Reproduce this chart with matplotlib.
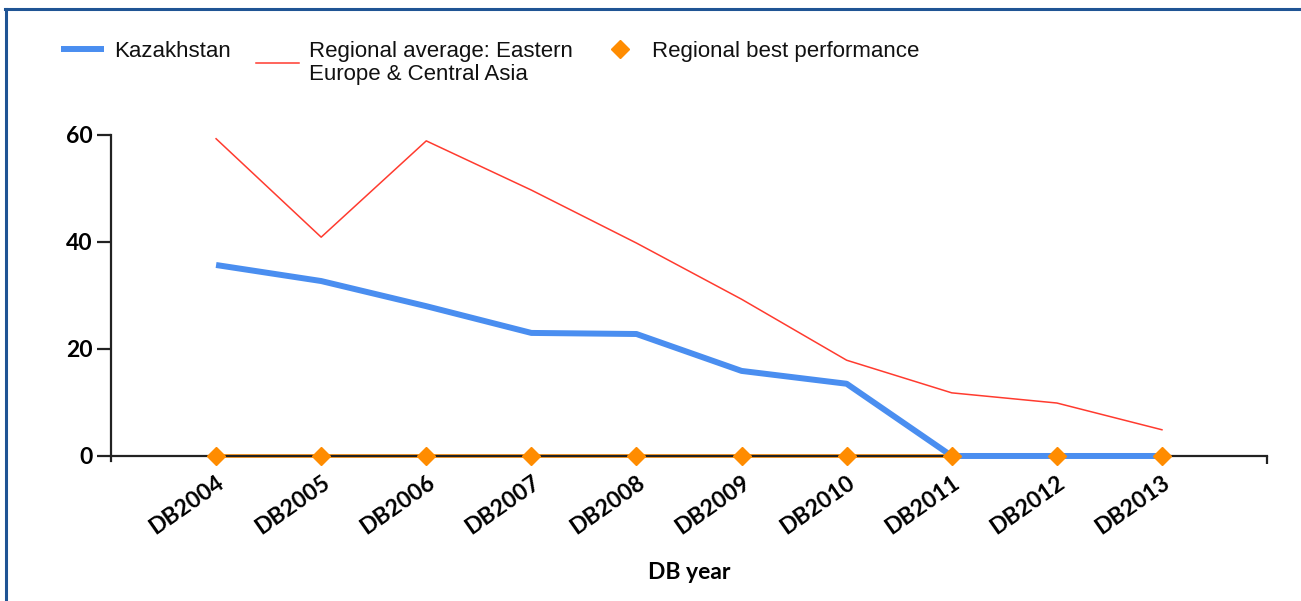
import numpy as np
import matplotlib
matplotlib.use("Agg")
import matplotlib.pyplot as plt
from matplotlib.lines import Line2D

# -----------------------
# Data
# -----------------------
years = ["DB2004", "DB2005", "DB2006", "DB2007", "DB2008",
         "DB2009", "DB2010", "DB2011", "DB2012", "DB2013"]
kazakhstan = [35.7, 32.7, 28.0, 23.0, 22.8, 15.9, 13.5, 0, 0, 0]
regional_avg = [59.3, 40.9, 58.9, 49.7, 39.8, 29.3, 17.9, 11.8, 9.9, 4.9]
regional_best = [0, 0, 0, 0, 0, 0, 0, 0, 0, 0]

yticks = [0, 20, 40, 60]

BLUE = "#4a8ef0"
RED = "#ff3b2f"
ORANGE = "#ff8c00"
FRAME = "#1f5494"

tick_font = dict(family="Lato", weight="bold", size=16.5)

fig = plt.figure(figsize=(13.01, 6.01), dpi=100)
ax = fig.add_axes([0.0853, 0.2324, 0.8886, 0.5430])

x = np.arange(len(years))

# orange connector sits under the axis line, diamonds on top
ax.plot(x, regional_best, color=ORANGE, lw=2.6, zorder=2, clip_on=False)
ax.plot(x, regional_best, ls="none", marker="D", ms=9, color=ORANGE,
        zorder=5, clip_on=False, label="Regional best performance")
ax.plot(x, regional_avg, color=RED, lw=1.1, zorder=3,
        label="Regional average: Eastern\nEurope & Central Asia")
ax.plot(x, kazakhstan, color=BLUE, lw=4.3, zorder=4, solid_capstyle="butt",
        clip_on=False, label="Kazakhstan")

ax.set_xlim(-1, 10)
ax.set_ylim(-1, 60)

for side in ["top", "right"]:
    ax.spines[side].set_visible(False)
ax.spines["bottom"].set_position(("data", 0))
ax.spines["bottom"].set_zorder(3.5)
for side in ["left", "bottom"]:
    ax.spines[side].set_linewidth(1.6)
    ax.spines[side].set_color("#222222")

ax.set_yticks(yticks)
ax.set_yticklabels([str(v) for v in yticks], fontdict=tick_font)
ax.tick_params(axis="y", direction="out", length=10, width=1.6,
               color="#222222", pad=3)

ax.set_xticks(x)
ax.set_xticklabels(years, fontdict=tick_font, rotation=35,
                   ha="right", rotation_mode="anchor")
ax.tick_params(axis="x", direction="inout", length=9, width=1.6,
               color="#222222", pad=7)
# little end tick at the right end of the category axis
ax.set_xticks([10], minor=True)
ax.tick_params(axis="x", which="minor", direction="out", length=6, width=1.6,
               color="#222222")

ax.set_xlabel("DB year", fontdict=tick_font, labelpad=17)

# legend across the top, entries aligned on their first line
handles, labels = ax.get_legend_handles_labels()
order = [2, 1, 0]
leg = fig.legend([handles[i] for i in order], [labels[i] for i in order],
                 loc="upper left", bbox_to_anchor=(0.047, 0.932), ncol=3,
                 frameon=False, prop=dict(family="Liberation Sans", size=16),
                 handlelength=1.95, handletextpad=0.45, columnspacing=1.12,
                 borderpad=0, borderaxespad=0)
for t in leg.get_texts():
    t.set_linespacing(1.12)
    t.set_color("#111111")
leg._legend_handle_box.align = "top"

# frame lines along the top and left edge of the picture
fig.add_artist(Line2D([0.004, 1.0], [0.985, 0.985], color=FRAME, lw=2.2,
                      transform=fig.transFigure))
fig.add_artist(Line2D([0.0045, 0.0045], [0.0, 0.985], color=FRAME, lw=2.2,
                      transform=fig.transFigure))

fig.savefig("out.png", dpi=100)
